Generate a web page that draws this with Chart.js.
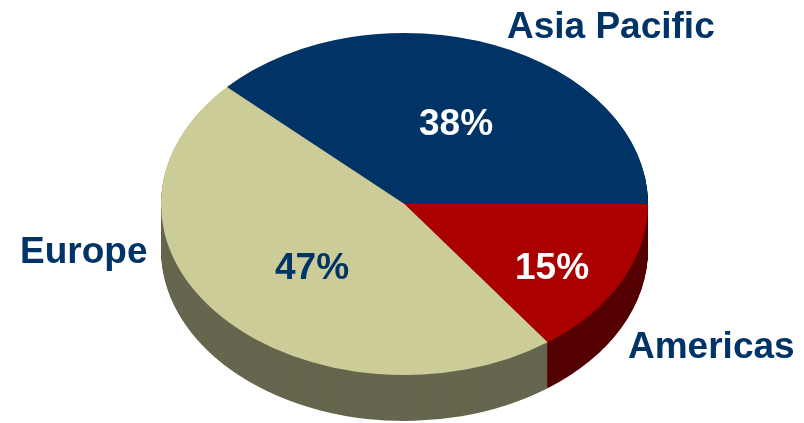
<!DOCTYPE html>
<html>
<head>
  <meta charset="UTF-8">
  <title>Regional Split</title>
  <script src="https://cdn.jsdelivr.net/npm/chart.js"></script>
  <style>
    body { margin: 0; background: #fff; }
  </style>
</head>
<body>
<canvas id="regionChart" width="804" height="423"></canvas>

<script>
  var regions = ['Asia Pacific', 'Americas', 'Europe'];
  var shares = [38, 15, 47];
  var topColors = ['#003366', '#AA0000', '#CCCC99'];
  var sideColors = ['#001a33', '#550000', '#66664E'];

  // the pie is drawn as a tilted disc: ellipse centre, radii and wall height
  var CX = 404.5, CY = 204, RX = 243.5, RY = 171, DEPTH = 46;

  var tiltedPie = {
    id: 'tiltedPie',
    beforeDatasetsDraw: function(chart) {
      var ctx = chart.ctx;
      var arcs = chart.getDatasetMeta(0).data;
      var ref = arcs[0];
      var sx = RX / ref.outerRadius, sy = RY / ref.outerRadius;
      function squash() {
        ctx.translate(CX, CY);
        ctx.scale(sx, sy);
        ctx.translate(-ref.x, -ref.y);
      }
      // side wall: stacked copies of each slice, deepest first
      for (var d = DEPTH; d > 0; d--) {
        arcs.forEach(function(arc, i) {
          ctx.save();
          ctx.translate(0, d);
          squash();
          ctx.beginPath();
          ctx.moveTo(arc.x, arc.y);
          ctx.arc(arc.x, arc.y, arc.outerRadius, arc.startAngle, arc.endAngle);
          ctx.closePath();
          ctx.fillStyle = sideColors[i];
          ctx.fill();
          ctx.restore();
        });
      }
      // top face
      ctx.save();
      squash();
      arcs.forEach(function(arc) { arc.draw(ctx); });
      ctx.restore();
      return false;
    },
    afterDraw: function(chart) {
      var ctx = chart.ctx;
      var data = chart.data.datasets[0].data;
      var total = data.reduce(function(a, b) { return a + b; }, 0);
      ctx.save();
      ctx.font = 'bold 37px "Liberation Sans", Arial, sans-serif';
      ctx.textBaseline = 'alphabetic';

      // region names outside the pie
      var names = [
        { x: 507, y: 38 },
        { x: 628, y: 358 },
        { x: 20, y: 263 }
      ];
      // percentages on the slices
      var pcts = [
        { x: 456, y: 135, color: '#ffffff' },
        { x: 552, y: 279, color: '#ffffff' },
        { x: 312, y: 279, color: '#003366' }
      ];
      chart.data.labels.forEach(function(label, i) {
        ctx.fillStyle = '#003366';
        ctx.textAlign = 'left';
        ctx.fillText(label, names[i].x, names[i].y);

        ctx.fillStyle = pcts[i].color;
        ctx.textAlign = 'center';
        ctx.fillText(Math.round(data[i] / total * 100) + '%', pcts[i].x, pcts[i].y);
      });
      ctx.restore();
    }
  };

  var ctx = document.getElementById('regionChart').getContext('2d');
  var regionChart = new Chart(ctx, {
    type: 'pie',
    data: {
      labels: regions,
      datasets: [{
        data: shares,
        backgroundColor: topColors,
        borderWidth: 0
      }]
    },
    options: {
      responsive: false,
      animation: false,
      events: [],
      rotation: -46.8,
      layout: { padding: 0 },
      plugins: {
        legend: { display: false },
        tooltip: { enabled: false }
      }
    },
    plugins: [tiltedPie]
  });
</script>
</body>
</html>
